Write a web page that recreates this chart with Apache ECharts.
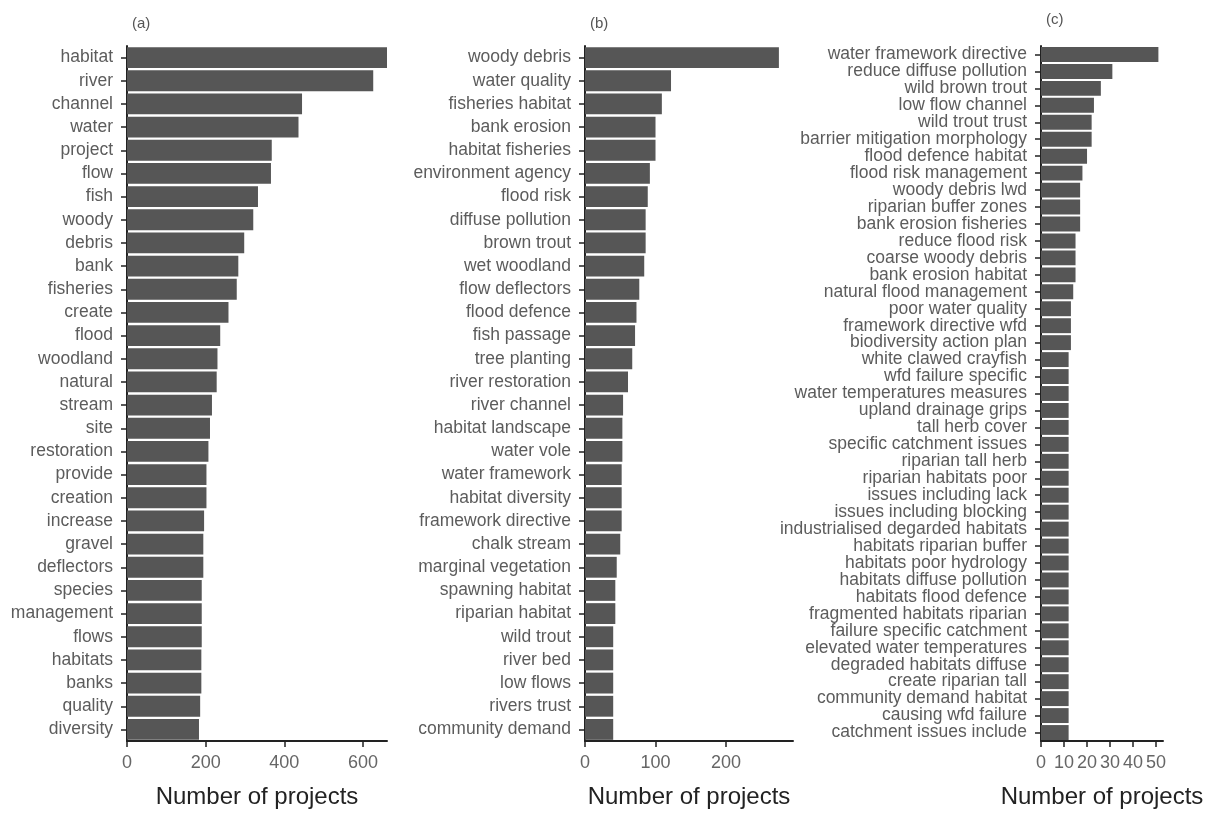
<!DOCTYPE html>
<html>
<head>
<meta charset="utf-8">
<script src="https://cdn.jsdelivr.net/npm/echarts@6/dist/echarts.min.js"></script>
<style>
  html, body { margin: 0; padding: 0; background: #fff; }
  #chart { width: 1225px; height: 818px; }
</style>
</head>
<body>
<div id="chart"></div>
<script>
// 三个面板的数据 (a) 单词, (b) 双词, (c) 三词
var catsA = ['habitat', 'river', 'channel', 'water', 'project', 'flow', 'fish', 'woody', 'debris', 'bank',
  'fisheries', 'create', 'flood', 'woodland', 'natural', 'stream', 'site', 'restoration', 'provide', 'creation',
  'increase', 'gravel', 'deflectors', 'species', 'management', 'flows', 'habitats', 'banks', 'quality', 'diversity'];
var valsA = [661, 626, 445, 436, 368, 366, 333, 321, 298, 283,
  279, 258, 237, 230, 228, 216, 211, 207, 202, 202,
  196, 194, 194, 190, 190, 190, 189, 189, 186, 183];

var catsB = ['woody debris', 'water quality', 'fisheries habitat', 'bank erosion', 'habitat fisheries',
  'environment agency', 'flood risk', 'diffuse pollution', 'brown trout', 'wet woodland',
  'flow deflectors', 'flood defence', 'fish passage', 'tree planting', 'river restoration',
  'river channel', 'habitat landscape', 'water vole', 'water framework', 'habitat diversity',
  'framework directive', 'chalk stream', 'marginal vegetation', 'spawning habitat', 'riparian habitat',
  'wild trout', 'river bed', 'low flows', 'rivers trust', 'community demand'];
var valsB = [275, 122, 109, 100, 100, 92, 89, 86, 86, 84,
  77, 73, 71, 67, 61, 54, 53, 53, 52, 52,
  52, 50, 45, 43, 43, 40, 40, 40, 40, 40];

var catsC = ['water framework directive', 'reduce diffuse pollution', 'wild brown trout', 'low flow channel',
  'wild trout trust', 'barrier mitigation morphology', 'flood defence habitat', 'flood risk management',
  'woody debris lwd', 'riparian buffer zones', 'bank erosion fisheries', 'reduce flood risk',
  'coarse woody debris', 'bank erosion habitat', 'natural flood management', 'poor water quality',
  'framework directive wfd', 'biodiversity action plan', 'white clawed crayfish', 'wfd failure specific',
  'water temperatures measures', 'upland drainage grips', 'tall herb cover', 'specific catchment issues',
  'riparian tall herb', 'riparian habitats poor', 'issues including lack', 'issues including blocking',
  'industrialised degarded habitats', 'habitats riparian buffer', 'habitats poor hydrology',
  'habitats diffuse pollution', 'habitats flood defence', 'fragmented habitats riparian',
  'failure specific catchment', 'elevated water temperatures', 'degraded habitats diffuse',
  'create riparian tall', 'community demand habitat', 'causing wfd failure', 'catchment issues include'];
var valsC = [51, 31, 26, 23, 22, 22, 20, 18, 17, 17, 17, 15, 15, 15, 14, 13, 13, 13, 12, 12,
  12, 12, 12, 12, 12, 12, 12, 12, 12, 12, 12, 12, 12, 12, 12, 12, 12, 12, 12, 12, 12];

var ticksA = [0, 200, 400, 600];
var ticksB = [0, 100, 200];
var ticksC = [0, 10, 20, 30, 40, 50];
var panelTitles = ['(a)', '(b)', '(c)'];

var FONT = 'Liberation Sans';
var chart = echarts.init(document.getElementById('chart'));

function xAxisFor(idx, max, ticks) {
  return {
    type: 'value', gridIndex: idx, min: 0, max: max,
    name: 'Number of projects', nameLocation: 'middle', nameGap: 44,
    nameTextStyle: { fontFamily: FONT, fontSize: 24, color: '#222' },
    splitLine: { show: false },
    axisLine: { show: true, lineStyle: { color: '#222', width: 2 } },
    axisTick: { show: true, length: 6, customValues: ticks, lineStyle: { color: '#222', width: 1.5 } },
    axisLabel: { customValues: ticks, margin: 13, fontFamily: FONT, fontSize: 18, color: '#666' }
  };
}

function yAxisFor(idx, cats) {
  return {
    type: 'category', gridIndex: idx, data: cats, inverse: true,
    axisLine: { show: true, lineStyle: { color: '#222', width: 2 } },
    axisTick: { show: true, length: 6, alignWithLabel: true, lineStyle: { color: '#222', width: 1.5 } },
    axisLabel: { interval: 0, margin: 14, fontFamily: FONT, fontSize: 17.5, color: '#5c5c5c' }
  };
}

function barSeries(idx, vals, gap) {
  return {
    type: 'bar', xAxisIndex: idx, yAxisIndex: idx, data: vals,
    barCategoryGap: gap, silent: true,
    itemStyle: { color: '#565656' }
  };
}

function panelTitle(i, left, top) {
  return {
    text: panelTitles[i], left: left, top: top,
    textStyle: { fontFamily: FONT, fontSize: 15, fontWeight: 'normal', color: '#555' }
  };
}

chart.setOption({
  animation: false,
  backgroundColor: '#fff',
  title: [
    panelTitle(0, 127, 11),
    panelTitle(1, 585, 11),
    panelTitle(2, 1041, 7)
  ],
  grid: [
    { left: 127, width: 260, top: 46, height: 695 },
    { left: 585, width: 208, top: 46, height: 695 },
    { left: 1041, width: 122, top: 46, height: 695 }
  ],
  xAxis: [
    xAxisFor(0, 661, ticksA),
    xAxisFor(1, 295, ticksB),
    xAxisFor(2, 53, ticksC)
  ],
  yAxis: [
    yAxisFor(0, catsA),
    yAxisFor(1, catsB),
    yAxisFor(2, catsC)
  ],
  series: [
    barSeries(0, valsA, '10%'),
    barSeries(1, valsB, '10%'),
    barSeries(2, valsC, '12%')
  ]
});
</script>
</body>
</html>
